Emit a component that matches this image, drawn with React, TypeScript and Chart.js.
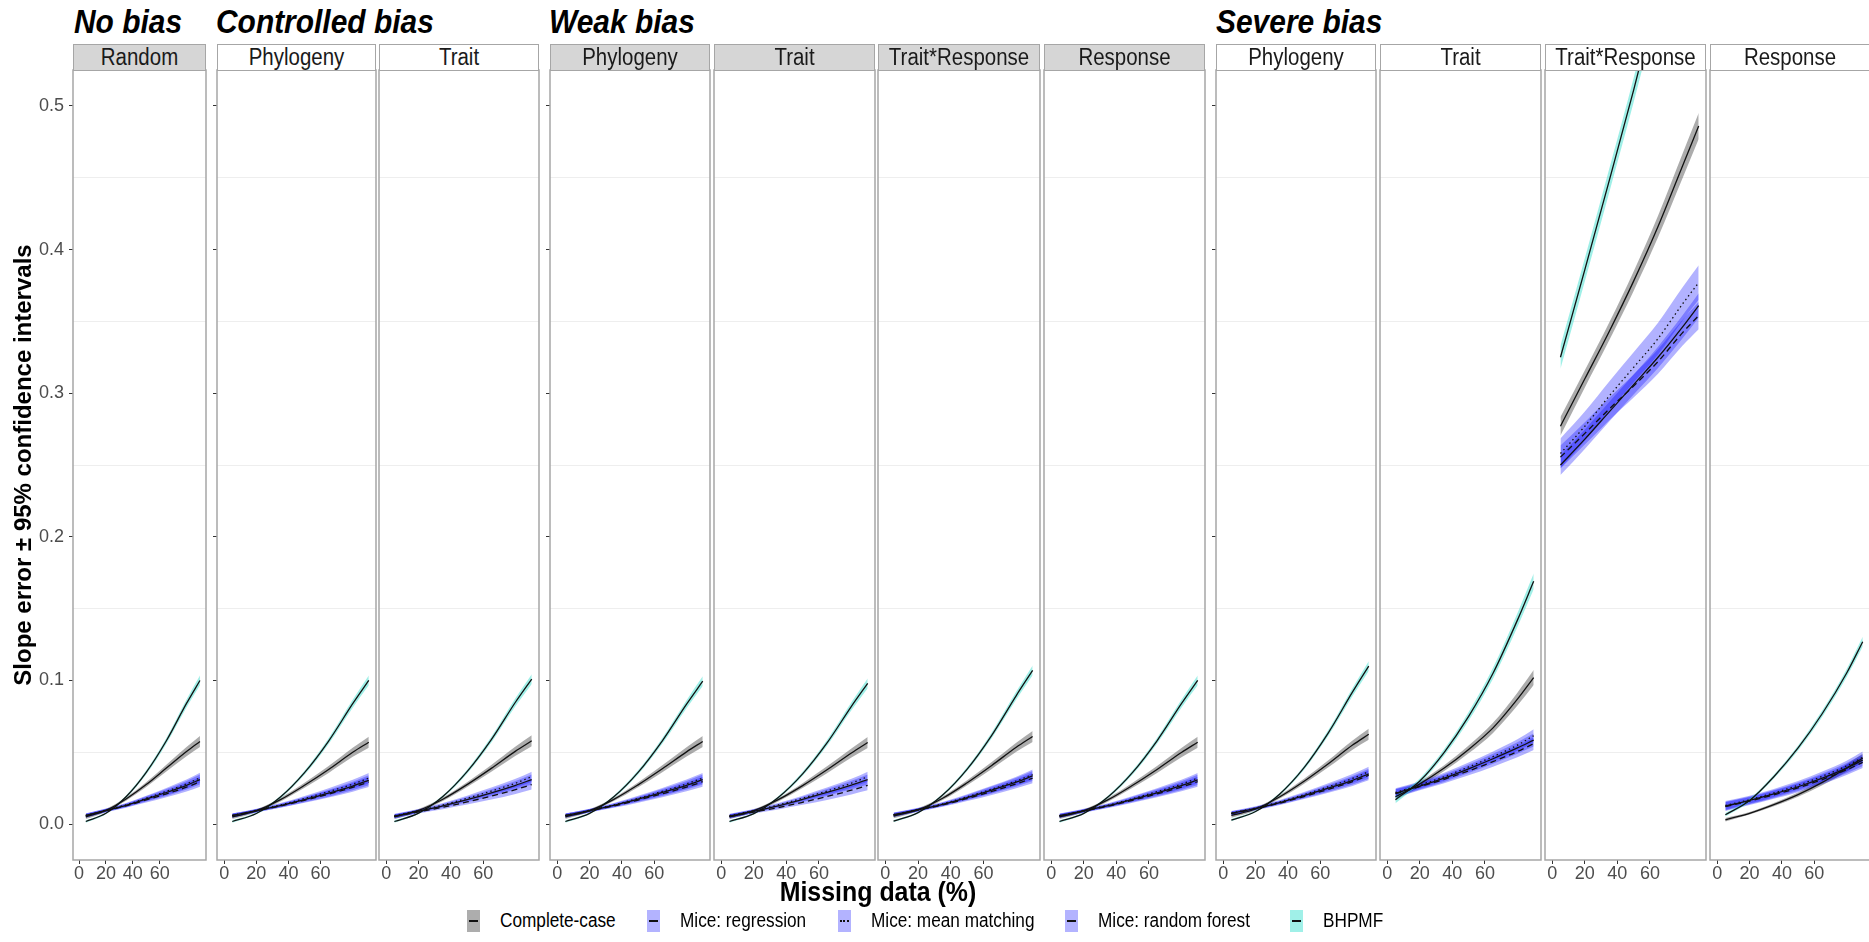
import React, { useEffect, useRef } from 'react';
import { Chart, registerables } from 'chart.js';

Chart.register(...registerables);

// ---------------- data ----------------
const missingPct = [5, 20, 35, 50, 65, 80, 90];
const xTicks = [0, 20, 40, 60];
const yTicks = [0, 0.05, 0.1, 0.15, 0.2, 0.25, 0.3, 0.35, 0.4, 0.45, 0.5];
const groupTitles = ['No bias', 'Controlled bias', 'Weak bias', 'Severe bias'];
const stripLabels = ['Random', 'Phylogeny', 'Trait', 'Phylogeny', 'Trait', 'Trait*Response', 'Response', 'Phylogeny', 'Trait', 'Trait*Response', 'Response'];
const methodLabels = ['Complete-case', 'Mice: regression', 'Mice: mean matching', 'Mice: random forest', 'BHPMF'];
const yAxisTitle = 'Slope error \u00b1 95% confidence intervals';
const xAxisTitle = 'Missing data (%)';

// No bias - Random
const noBiasRandomCC = [0.005, 0.0095, 0.0175, 0.0275, 0.039, 0.0505, 0.0575];
const noBiasRandomReg = [0.006, 0.0095, 0.013, 0.0175, 0.022, 0.027, 0.031];
const noBiasRandomMM = [0.006, 0.0097, 0.0134, 0.018, 0.0228, 0.028, 0.0322];
const noBiasRandomRF = [0.0058, 0.0093, 0.0127, 0.0168, 0.021, 0.0257, 0.0295];
const noBiasRandomBH = [0.0018, 0.0075, 0.019, 0.036, 0.058, 0.084, 0.1];
// Controlled bias - Phylogeny
const ctrlPhyloCC = [0.005, 0.0093, 0.017, 0.027, 0.038, 0.05, 0.057];
const ctrlPhyloReg = [0.006, 0.0093, 0.0128, 0.017, 0.0215, 0.0265, 0.0305];
const ctrlPhyloMM = [0.006, 0.0096, 0.0133, 0.0178, 0.0226, 0.0278, 0.032];
const ctrlPhyloRF = [0.0059, 0.0092, 0.0126, 0.0166, 0.0209, 0.0256, 0.0293];
const ctrlPhyloBH = [0.0018, 0.0074, 0.0188, 0.0358, 0.0578, 0.0838, 0.1];
// Controlled bias - Trait
const ctrlTraitCC = [0.005, 0.0095, 0.0173, 0.0275, 0.0388, 0.0508, 0.058];
const ctrlTraitReg = [0.0055, 0.009, 0.0127, 0.017, 0.0218, 0.027, 0.031];
const ctrlTraitMM = [0.0058, 0.0094, 0.0133, 0.018, 0.023, 0.0285, 0.033];
const ctrlTraitRF = [0.0052, 0.0085, 0.0117, 0.0154, 0.0195, 0.024, 0.0275];
const ctrlTraitBH = [0.0018, 0.0076, 0.0192, 0.0365, 0.0588, 0.085, 0.101];
// Weak bias - Phylogeny
const weakPhyloCC = [0.005, 0.0094, 0.0172, 0.0273, 0.0385, 0.0503, 0.0575];
const weakPhyloReg = [0.006, 0.0094, 0.013, 0.0173, 0.022, 0.027, 0.031];
const weakPhyloMM = [0.006, 0.0096, 0.0134, 0.0179, 0.0228, 0.028, 0.032];
const weakPhyloRF = [0.0059, 0.0092, 0.0126, 0.0167, 0.0211, 0.0258, 0.0295];
const weakPhyloBH = [0.0018, 0.0075, 0.019, 0.036, 0.058, 0.0835, 0.0995];
// Weak bias - Trait
const weakTraitCC = [0.005, 0.0093, 0.017, 0.0268, 0.0378, 0.0495, 0.0568];
const weakTraitReg = [0.0055, 0.009, 0.0127, 0.0172, 0.022, 0.0272, 0.031];
const weakTraitMM = [0.0058, 0.0094, 0.0133, 0.018, 0.023, 0.0285, 0.033];
const weakTraitRF = [0.0052, 0.0084, 0.0115, 0.0152, 0.0192, 0.0236, 0.027];
const weakTraitBH = [0.0018, 0.0073, 0.0185, 0.035, 0.0565, 0.082, 0.098];
// Weak bias - Trait*Response
const weakTRCC = [0.0055, 0.01, 0.018, 0.0288, 0.0408, 0.0535, 0.061];
const weakTRReg = [0.0065, 0.01, 0.0138, 0.0185, 0.0237, 0.0292, 0.0335];
const weakTRMM = [0.0066, 0.0102, 0.0141, 0.019, 0.0243, 0.03, 0.0345];
const weakTRRF = [0.0063, 0.0097, 0.0133, 0.0178, 0.0227, 0.028, 0.032];
const weakTRBH = [0.002, 0.008, 0.0202, 0.0383, 0.0618, 0.0895, 0.107];
// Weak bias - Response
const weakRespCC = [0.005, 0.0093, 0.017, 0.027, 0.038, 0.0498, 0.057];
const weakRespReg = [0.0058, 0.0092, 0.0128, 0.0172, 0.0218, 0.0268, 0.0308];
const weakRespMM = [0.0059, 0.0095, 0.0132, 0.0177, 0.0226, 0.0278, 0.032];
const weakRespRF = [0.0057, 0.009, 0.0125, 0.0166, 0.021, 0.0258, 0.0295];
const weakRespBH = [0.0018, 0.0075, 0.019, 0.036, 0.058, 0.0838, 0.1];
// Severe bias - Phylogeny
const sevPhyloCC = [0.006, 0.0105, 0.019, 0.0298, 0.042, 0.055, 0.0625];
const sevPhyloReg = [0.0075, 0.011, 0.015, 0.0198, 0.025, 0.0305, 0.035];
const sevPhyloMM = [0.0077, 0.0113, 0.0155, 0.0205, 0.026, 0.0318, 0.0365];
const sevPhyloRF = [0.0073, 0.0107, 0.0146, 0.0192, 0.0242, 0.0296, 0.034];
const sevPhyloBH = [0.0028, 0.0088, 0.021, 0.0393, 0.0635, 0.092, 0.11];
// Severe bias - Trait
const sevTraitCC = [0.019, 0.028, 0.039, 0.052, 0.067, 0.087, 0.102];
const sevTraitReg = [0.0215, 0.0265, 0.032, 0.0385, 0.0455, 0.053, 0.0585];
const sevTraitMM = [0.022, 0.0272, 0.033, 0.0398, 0.047, 0.055, 0.0615];
const sevTraitRF = [0.0212, 0.026, 0.0312, 0.037, 0.0435, 0.0505, 0.056];
const sevTraitBH = [0.017, 0.03, 0.05, 0.075, 0.105, 0.142, 0.169];
// Severe bias - Trait*Response
const sevTRCC = [0.277, 0.31, 0.343, 0.378, 0.416, 0.458, 0.486];
const sevTRReg = [0.25, 0.268, 0.287, 0.306, 0.325, 0.346, 0.361];
const sevTRMM = [0.258, 0.277, 0.298, 0.318, 0.338, 0.362, 0.377];
const sevTRRF = [0.2555, 0.272, 0.289, 0.305, 0.322, 0.342, 0.354];
const sevTRBH = [0.325, 0.386, 0.448, 0.511, 0.578];
// Severe bias - Response
const sevRespCC = [0.003, 0.0075, 0.0135, 0.0205, 0.029, 0.039, 0.046];
const sevRespReg = [0.0125, 0.0165, 0.021, 0.026, 0.032, 0.039, 0.0445];
const sevRespMM = [0.013, 0.017, 0.0217, 0.027, 0.0333, 0.0405, 0.0465];
const sevRespRF = [0.0122, 0.016, 0.0204, 0.0252, 0.031, 0.0378, 0.043];
const sevRespBH = [0.0065, 0.0165, 0.033, 0.053, 0.077, 0.105, 0.127];

// 95% CI half-widths
const ciTypicalCC = [0.0015, 0.001, 0.0012, 0.0017, 0.0024, 0.0032, 0.0038];
const ciTypicalMice = [0.0014, 0.0011, 0.0013, 0.0018, 0.0024, 0.003, 0.0035];
const ciTypicalBH = [0.0008, 0.0006, 0.0009, 0.0014, 0.002, 0.0028, 0.0034];
const ciSevTraitCC = [0.0025, 0.0018, 0.002, 0.0027, 0.0035, 0.0045, 0.0052];
const ciSevTraitMice = [0.003, 0.0025, 0.0027, 0.003, 0.0035, 0.004, 0.0045];
const ciSevTraitBH = [0.0025, 0.0018, 0.0022, 0.003, 0.0038, 0.0048, 0.0055];
const ciSevTRCC = [0.0065, 0.006, 0.0062, 0.0068, 0.0075, 0.0085, 0.009];
const ciSevTRReg = [0.007, 0.0068, 0.0068, 0.007, 0.0074, 0.008, 0.0085];
const ciSevTRMM = [0.0105, 0.0102, 0.0102, 0.0105, 0.011, 0.0115, 0.012];
const ciSevTRRF = [0.008, 0.0078, 0.0078, 0.008, 0.0085, 0.009, 0.0095];
const ciSevTRBH = [0.008, 0.008, 0.0082, 0.0085, 0.009];
const ciSevRespCC = [0.0012, 0.0009, 0.0011, 0.0015, 0.002, 0.0026, 0.003];
const ciSevRespMice = [0.003, 0.0027, 0.0028, 0.003, 0.0033, 0.0036, 0.004];
const ciSevRespBH = [0.0012, 0.0011, 0.0013, 0.0017, 0.0022, 0.0028, 0.0034];

const PANEL_FITS = [
  [noBiasRandomCC, noBiasRandomReg, noBiasRandomMM, noBiasRandomRF, noBiasRandomBH],
  [ctrlPhyloCC, ctrlPhyloReg, ctrlPhyloMM, ctrlPhyloRF, ctrlPhyloBH],
  [ctrlTraitCC, ctrlTraitReg, ctrlTraitMM, ctrlTraitRF, ctrlTraitBH],
  [weakPhyloCC, weakPhyloReg, weakPhyloMM, weakPhyloRF, weakPhyloBH],
  [weakTraitCC, weakTraitReg, weakTraitMM, weakTraitRF, weakTraitBH],
  [weakTRCC, weakTRReg, weakTRMM, weakTRRF, weakTRBH],
  [weakRespCC, weakRespReg, weakRespMM, weakRespRF, weakRespBH],
  [sevPhyloCC, sevPhyloReg, sevPhyloMM, sevPhyloRF, sevPhyloBH],
  [sevTraitCC, sevTraitReg, sevTraitMM, sevTraitRF, sevTraitBH],
  [sevTRCC, sevTRReg, sevTRMM, sevTRRF, sevTRBH],
  [sevRespCC, sevRespReg, sevRespMM, sevRespRF, sevRespBH],
];
const ciTypical = [ciTypicalCC, ciTypicalMice, ciTypicalMice, ciTypicalMice, ciTypicalBH];
const PANEL_CIS = [
  ciTypical, ciTypical, ciTypical, ciTypical, ciTypical, ciTypical, ciTypical, ciTypical,
  [ciSevTraitCC, ciSevTraitMice, ciSevTraitMice, ciSevTraitMice, ciSevTraitBH],
  [ciSevTRCC, ciSevTRReg, ciSevTRMM, ciSevTRRF, ciSevTRBH],
  [ciSevRespCC, ciSevRespMice, ciSevRespMice, ciSevRespMice, ciSevRespBH],
];

// ---------------- layout & style ----------------
const FONT = '"Liberation Sans", Arial, Helvetica, sans-serif';
const PANEL_BOX = [[73, 206], [217, 376], [379, 539], [550, 710], [714, 875], [878, 1040], [1044, 1205], [1216, 1376], [1380, 1541], [1545, 1706], [1710, 1870]];
const PANEL_GROUP = [0, 1, 1, 2, 2, 2, 2, 3, 3, 3, 3];
const GROUP_TITLE_X = [74, 216, 549, 1216];
const STRIP_FILL = ['#d6d6d6', '#ffffff', '#d6d6d6', '#ffffff'];
const PANEL_TOP = 70;
const PANEL_BOTTOM = 860;
const CANVAS_TOP = 69;
const CANVAS_BOTTOM = 890;
const STRIP_TOP = 44;
const BORDER = '#a6a6a6';
const RIBBON = ['rgba(90,90,90,0.5)', 'rgba(0,0,255,0.3)', 'rgba(0,0,255,0.3)', 'rgba(0,0,255,0.3)', 'rgba(64,224,208,0.5)'];
const KEY_FILL = ['#adadad', '#b3b3ff', '#b3b3ff', '#b3b3ff', '#a0f0e8'];
const DASHES = [[], [], [1.5, 3], [6, 4], []];
const KEY_LINE = ['solid', 'solid', 'dotted', 'dashed', 'solid'];
const LEGEND_KEY_X = [467, 647, 838, 1065, 1290];

const panelBorder = {
  id: 'panelBorder',
  afterDraw(chart: any) {
    const { ctx, chartArea: a } = chart;
    ctx.save();
    ctx.strokeStyle = BORDER;
    ctx.lineWidth = 1.5;
    ctx.strokeRect(a.left, a.top, a.right - a.left, a.bottom - a.top);
    ctx.restore();
  },
};

const isMinor = (v: number) => Math.round(v * 100) % 10 === 5;

function pts(ys: number[]) {
  return ys.map((y, i) => ({ x: missingPct[i], y }));
}

function buildDatasets(fits: number[][], cis: number[][]) {
  const order = [4, 3, 2, 1, 0];
  const lines = order.map((m) => ({
    data: pts(fits[m]),
    borderColor: '#111111',
    borderWidth: 1.3,
    borderDash: DASHES[m],
    fill: false,
    pointRadius: 0,
    cubicInterpolationMode: 'monotone',
  }));
  const ribbons: any[] = [];
  order.forEach((m) => {
    ribbons.push({
      data: pts(fits[m].map((v, i) => v + cis[m][i])),
      borderWidth: 0,
      borderColor: 'rgba(0,0,0,0)',
      backgroundColor: RIBBON[m],
      fill: '+1',
      pointRadius: 0,
      cubicInterpolationMode: 'monotone',
    });
    ribbons.push({
      data: pts(fits[m].map((v, i) => v - cis[m][i])),
      borderWidth: 0,
      borderColor: 'rgba(0,0,0,0)',
      backgroundColor: 'rgba(0,0,0,0)',
      fill: false,
      pointRadius: 0,
      cubicInterpolationMode: 'monotone',
    });
  });
  return [...lines, ...ribbons];
}

function Panel({ index }: { index: number }) {
  const ref = useRef<HTMLCanvasElement>(null);
  const [L, R] = PANEL_BOX[index];
  const isFirst = index === 0;
  const groupFirst = index === 0 || PANEL_GROUP[index] !== PANEL_GROUP[index - 1];
  const leftExtra = isFirst ? 73 : groupFirst ? 5 : 0;
  const width = R - L + leftExtra + 2;
  const height = CANVAS_BOTTOM - CANVAS_TOP;
  const left = L - leftExtra - 1;

  useEffect(() => {
    if (!ref.current) return;
    const chart = new Chart(ref.current, {
      type: 'line',
      data: { datasets: buildDatasets(PANEL_FITS[index], PANEL_CIS[index]) as any },
      plugins: [panelBorder],
      options: {
        responsive: false,
        animation: false,
        events: [],
        layout: { padding: { left: 1, right: 1, top: 1, bottom: 0 } },
        plugins: { legend: { display: false }, tooltip: { enabled: false }, title: { display: false } },
        scales: {
          x: {
            type: 'linear',
            min: -4.5,
            max: 94.5,
            afterBuildTicks: (s: any) => { s.ticks = xTicks.map((v) => ({ value: v })); },
            afterFit: (s: any) => {
              s.height = CANVAS_BOTTOM - PANEL_BOTTOM;
              s.paddingLeft = 0;
              s.paddingRight = 0;
            },
            border: { display: false },
            grid: { drawOnChartArea: false, drawTicks: true, tickLength: 4, tickColor: '#333333', color: 'rgba(0,0,0,0)' },
            ticks: { color: '#4d4d4d', font: { family: FONT, size: 18, lineHeight: 1 }, padding: 1, maxRotation: 0, autoSkip: false },
          },
          y: {
            type: 'linear',
            min: -0.025,
            max: 0.525,
            afterBuildTicks: (s: any) => { s.ticks = yTicks.map((v) => ({ value: v })); },
            afterFit: (s: any) => {
              s.width = leftExtra;
              s.paddingTop = 0;
              s.paddingBottom = 0;
            },
            border: { display: false },
            grid: {
              color: (c: any) => (c.tick && isMinor(c.tick.value) ? '#eeeeee' : 'rgba(0,0,0,0)'),
              lineWidth: 1,
              drawTicks: leftExtra > 0,
              tickLength: 4,
              tickColor: (c: any) => (c.tick && !isMinor(c.tick.value) ? '#333333' : 'rgba(0,0,0,0)'),
            },
            ticks: {
              display: isFirst,
              autoSkip: false,
              color: '#4d4d4d',
              font: { family: FONT, size: 18 },
              padding: 5,
              callback: (v: any) => (isMinor(Number(v)) ? '' : Number(v).toFixed(1)),
            },
            title: {
              display: isFirst,
              text: yAxisTitle,
              color: '#000000',
              font: { family: FONT, size: 24, weight: 'bold' },
              padding: { top: 10, bottom: 0 },
            },
          },
        },
      } as any,
    });
    return () => chart.destroy();
  }, [index]);

  return (
    <canvas
      ref={ref}
      width={width}
      height={height}
      style={{ position: 'absolute', left, top: CANVAS_TOP, width, height }}
    />
  );
}

function Strip({ index }: { index: number }) {
  const [L, R] = PANEL_BOX[index];
  return (
    <div
      style={{
        position: 'absolute', left: L, top: STRIP_TOP, width: R - L, height: PANEL_TOP - STRIP_TOP + 1,
        boxSizing: 'border-box', border: `1.5px solid ${BORDER}`, background: STRIP_FILL[PANEL_GROUP[index]],
        overflow: 'hidden',
      }}
    >
      <div
        style={{
          position: 'absolute', left: 0, right: 0, top: -1, textAlign: 'center', fontFamily: FONT,
          fontSize: 23, lineHeight: '26px', color: '#1a1a1a', transform: 'scaleX(0.89)', whiteSpace: 'nowrap',
        }}
      >
        {stripLabels[index]}
      </div>
    </div>
  );
}

function LegendItem({ m }: { m: number }) {
  const x = LEGEND_KEY_X[m];
  return (
    <>
      <div
        style={{
          position: 'absolute', left: x, top: 910, width: 13, height: 22, background: KEY_FILL[m],
        }}
      >
        <div
          style={{
            position: 'absolute', left: 2, width: 9, top: 10, height: 0,
            borderTop: `2px ${KEY_LINE[m]} #111111`,
          }}
        />
      </div>
      <div
        style={{
          position: 'absolute', left: x + 33, top: 910, fontFamily: FONT, fontSize: 20, lineHeight: '21px',
          color: '#000000', whiteSpace: 'nowrap', transform: 'scaleX(0.86)', transformOrigin: 'left center',
        }}
      >
        {methodLabels[m]}
      </div>
    </>
  );
}

export default function App() {
  return (
    <div
      style={{
        position: 'absolute', left: 0, top: 0, width: 1869, height: 942, overflow: 'hidden',
        background: '#ffffff', fontFamily: FONT,
      }}
    >
      {PANEL_BOX.map((_, i) => (
        <Panel key={`p${i}`} index={i} />
      ))}
      {PANEL_BOX.map((_, i) => (
        <Strip key={`s${i}`} index={i} />
      ))}
      {groupTitles.map((t, g) => (
        <div
          key={`t${g}`}
          style={{
            position: 'absolute', left: GROUP_TITLE_X[g], top: 4, fontFamily: FONT, fontSize: 34,
            lineHeight: '34px', fontWeight: 'bold', fontStyle: 'italic', color: '#000000', whiteSpace: 'nowrap',
            transform: 'scaleX(0.88)', transformOrigin: 'left center',
          }}
        >
          {t}
        </div>
      ))}
      <div
        style={{
          position: 'absolute', left: 878, top: 877, fontFamily: FONT, fontSize: 28, lineHeight: '30px',
          fontWeight: 'bold', color: '#000000', whiteSpace: 'nowrap', transform: 'translateX(-50%) scaleX(0.89)',
        }}
      >
        {xAxisTitle}
      </div>
      {methodLabels.map((_, m) => (
        <LegendItem key={`l${m}`} m={m} />
      ))}
    </div>
  );
}
